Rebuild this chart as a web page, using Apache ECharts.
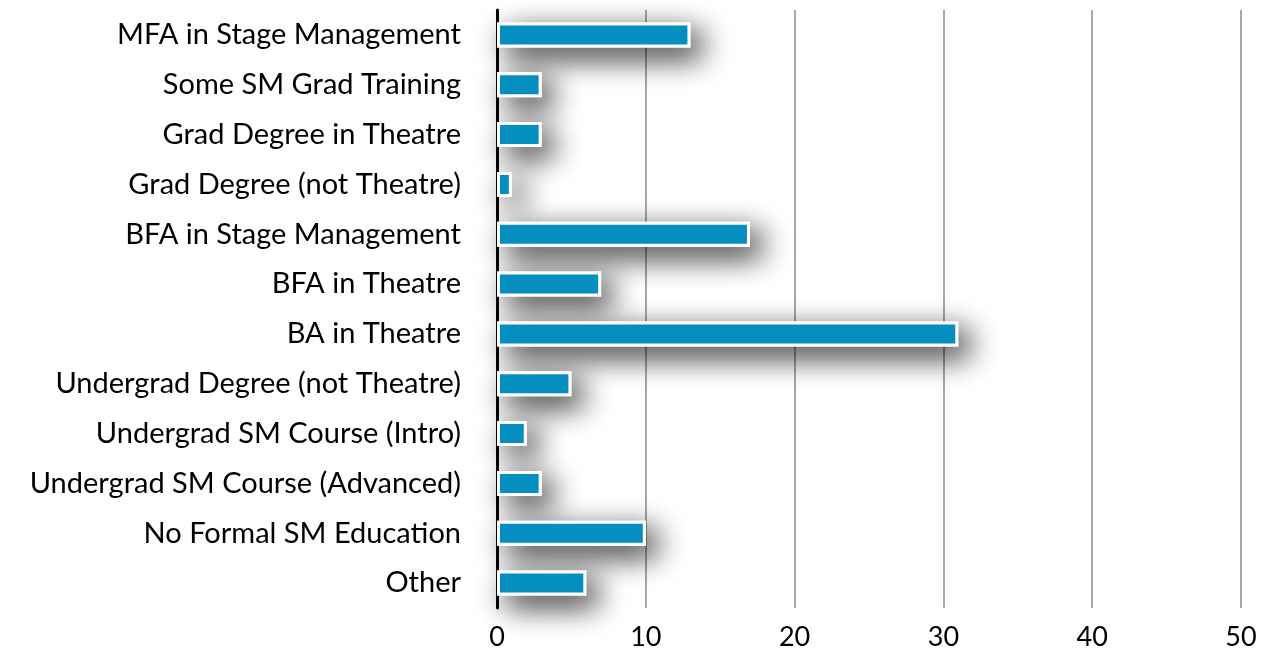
<!DOCTYPE html>
<html>
<head>
<meta charset="utf-8">
<script src="https://cdn.jsdelivr.net/npm/echarts@6/dist/echarts.min.js"></script>
<style>html,body{margin:0;padding:0;background:#fff;}#c{width:1267px;height:654px;}</style>
</head>
<body>
<div id="c"></div>
<script>
const categories = [
  "MFA in Stage Management",
  "Some SM Grad Training",
  "Grad Degree in Theatre",
  "Grad Degree (not Theatre)",
  "BFA in Stage Management",
  "BFA in Theatre",
  "BA in Theatre",
  "Undergrad Degree (not Theatre)",
  "Undergrad SM Course (Intro)",
  "Undergrad SM Course (Advanced)",
  "No Formal SM Education",
  "Other"
];
const values = [13, 3, 3, 1, 17, 7, 31, 5, 2, 3, 10, 6];
const xTicks = [0, 10, 20, 30, 40, 50];

const chart = echarts.init(document.getElementById('c'), null, {renderer: 'canvas'});
const FONT = 'Lato, "Open Sans", sans-serif';
chart.setOption({
  animation: false,
  grid: {left: 497, right: 26, top: 10, bottom: 46, containLabel: false},
  xAxis: {
    type: 'value', min: xTicks[0], max: xTicks[xTicks.length - 1], interval: 10,
    axisLine: {show: false},
    axisTick: {show: false},
    splitLine: {show: true, lineStyle: {color: '#a8a8a8', width: 2}},
    axisLabel: {color: '#000', fontSize: 27, fontFamily: FONT, margin: 16}
  },
  yAxis: {
    type: 'category', data: categories, inverse: true,
    axisLine: {show: true, onZero: false, lineStyle: {color: '#000', width: 3}},
    axisTick: {show: false},
    axisLabel: {color: '#000', fontSize: 29, fontFamily: FONT, margin: 36}
  },
  series: [{
    name: 'shadow', type: 'bar', data: values, barWidth: 25, barGap: '-100%', z: 1,
    silent: true,
    itemStyle: {
      color: '#fff', borderColor: '#fff', borderWidth: 3,
      shadowColor: 'rgba(0,0,0,0.85)', shadowBlur: 30, shadowOffsetX: 10, shadowOffsetY: 10
    }
  }, {
    name: 'value', type: 'bar', data: values, barWidth: 25, barGap: '-100%', z: 3,
    itemStyle: {color: '#058fc0', borderColor: '#fff', borderWidth: 3}
  }]
});
</script>
</body>
</html>
